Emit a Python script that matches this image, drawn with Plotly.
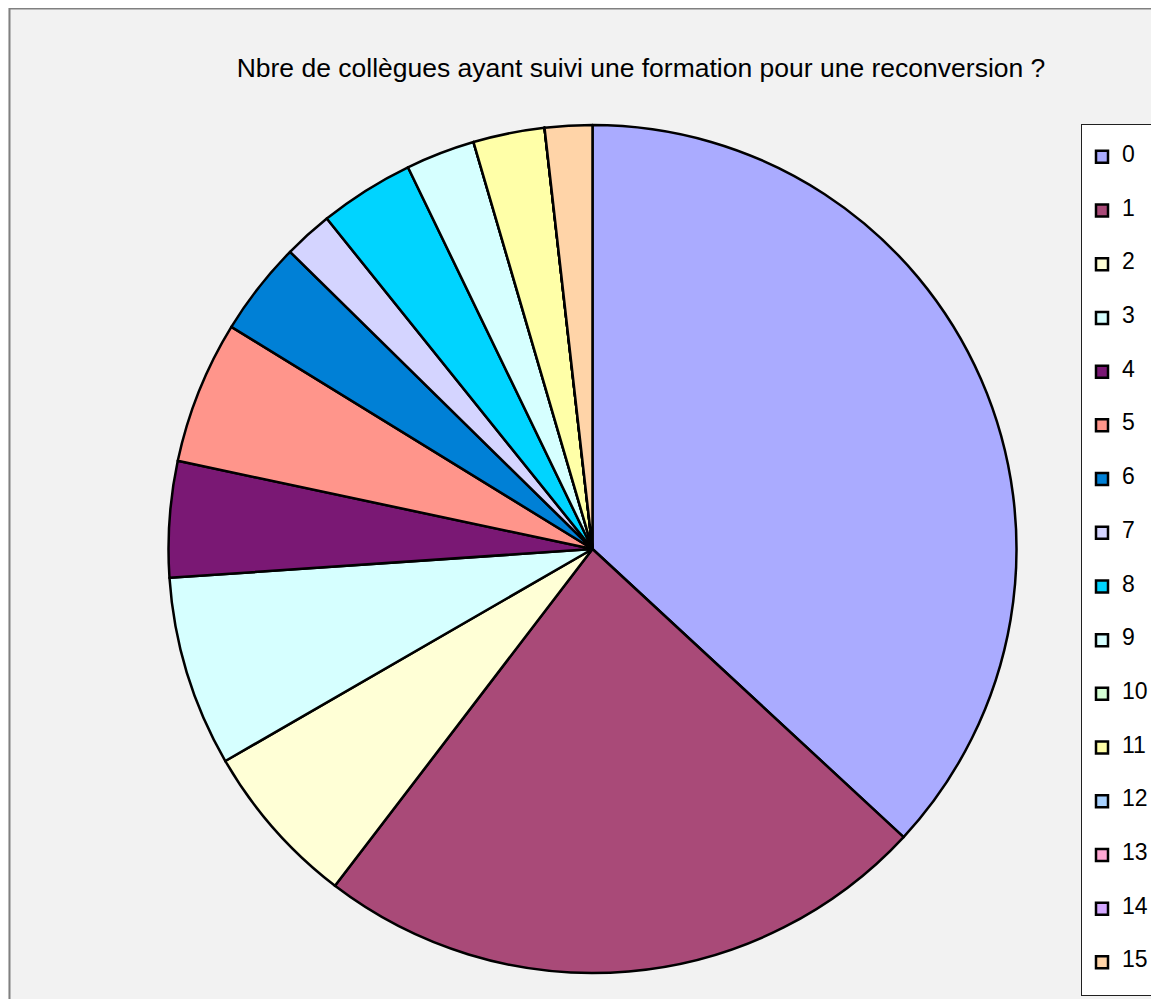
import plotly.graph_objects as go

categories = ["0", "1", "2", "3", "4", "5", "6", "7", "8", "9", "10", "11", "12", "13", "14", "15"]
values = [132.8, 84.6, 22.6, 26.1, 15.9, 19.6, 12.9, 6.7, 13.0, 9.5, 0, 9.8, 0, 0, 0, 6.5]
colors = ["#aaabff", "#a94a78", "#ffffd6", "#d6ffff", "#7a1874", "#ff958b", "#0080d6",
          "#d4d4ff", "#00d4ff", "#d6ffff", "#d4ffd4", "#ffffa8", "#a8d2ff", "#ffa8d4",
          "#d4a8ff", "#ffd4a8"]
title = "Nbre de collègues ayant suivi une formation pour une reconversion ?"

W, H = 1151, 991
cx, cy, r = 584.5, 541, 424

fig = go.Figure(go.Pie(
    labels=[" <br><span style='font-size:23px'>" + c + "</span><br> " for c in categories],
    values=values,
    sort=False,
    direction="clockwise",
    rotation=0,
    marker=dict(colors=colors, line=dict(color="black", width=2.5)),
    textinfo="none",
    hoverinfo="percent",
    domain=dict(x=[(cx - r) / W, (cx + r) / W], y=[1 - (cy + r) / H, 1 - (cy - r) / H]),
))

fig.update_layout(
    width=W, height=H,
    margin=dict(l=0, r=0, t=0, b=0, autoexpand=False),
    paper_bgcolor="#f2f2f2",
    font=dict(family="Liberation Sans, Arial", color="black"),
    title=dict(text=title, x=633 / W, xanchor="center", y=1 - 60 / H, yanchor="middle",
               font=dict(size=26.5, color="black")),
    legend=dict(x=1146 / W, xanchor="right", y=1 - 116 / H, yanchor="top",
                bgcolor="white", bordercolor="#202020", borderwidth=1,
                font=dict(size=13.0), valign="middle", traceorder="normal"),
    shapes=[dict(type="rect", xref="paper", yref="paper", x0=1.5 / W, x1=1.02, y0=-0.02, y1=1 - 0.5 / H,
                 line=dict(color="#808080", width=2), fillcolor="rgba(0,0,0,0)", layer="below")],
)

fig.write_html("out.html")
